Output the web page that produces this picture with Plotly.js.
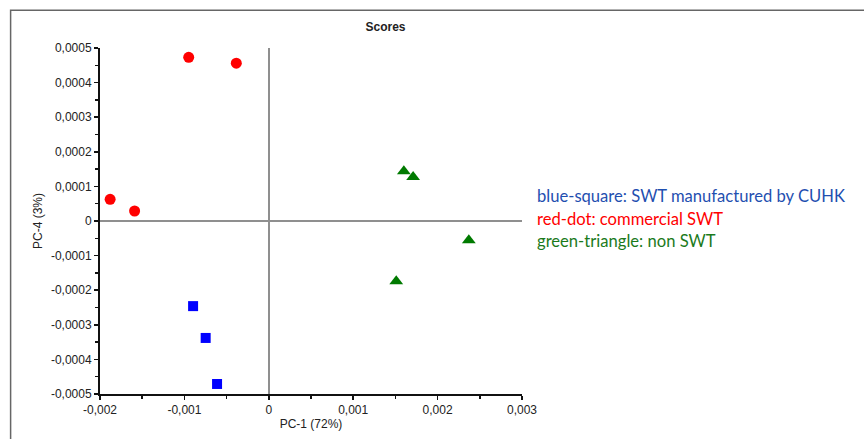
<!DOCTYPE html>
<html><head><meta charset="utf-8">
<script src="https://cdn.plot.ly/plotly-3.0.1.min.js"></script>
<style>html,body{margin:0;padding:0;background:#fff;}#chart{width:864px;height:439px;}</style>
</head><body><div id="chart"></div>
<script>
// Scores (PC-1 vs PC-4)
const blueX = [-0.000897, -0.000748, -0.000613];
const blueY = [-0.000246, -0.000338, -0.000471];
const redX = [-0.00188, -0.00159, -0.000949, -0.000385];
const redY = [0.0000626, 0.0000289, 0.000473, 0.000456];
const greenX = [0.00160, 0.00171, 0.00237, 0.00151];
const greenY = [0.000144, 0.000127, -0.0000557, -0.000174];

const xTickVals = [-0.002, -0.001, 0, 0.001, 0.002, 0.003];
const xTickText = ['-0,002', '-0,001', '0', '0,001', '0,002', '0,003'];
const yTickVals = [-0.0005, -0.0004, -0.0003, -0.0002, -0.0001, 0, 0.0001, 0.0002, 0.0003, 0.0004, 0.0005];
const yTickText = ['-0,0005', '-0,0004', '-0,0003', '-0,0002', '-0,0001', '0', '0,0001', '0,0002', '0,0003', '0,0004', '0,0005'];

const legendLines = [
  {text: 'blue-square: SWT manufactured by CUHK', color: '#1f4fb0'},
  {text: 'red-dot: commercial SWT', color: '#ff0000'},
  {text: 'green-triangle: non SWT', color: '#1b7a1b'}
];

const traces = [
  {x: blueX, y: blueY, mode: 'markers', type: 'scatter', name: 'blue',
   marker: {symbol: 'square', color: '#0000ff', size: 10}},
  {x: redX, y: redY, mode: 'markers', type: 'scatter', name: 'red',
   marker: {symbol: 'circle', color: '#ff0000', size: 11}},
  {x: greenX, y: greenY, mode: 'markers', type: 'scatter', name: 'green',
   marker: {symbol: 'triangle-up', color: '#007a00', size: 12}}
];

const W = 864, H = 439;
const L = 99.5, R = 342, T = 47.7, B = 44.7;
const pw = W - L - R, ph = H - T - B;
const px = p => (p - L) / pw;
const py = p => (H - B - p) / ph;

const annotations = legendLines.map((d, i) => ({
  xref: 'paper', yref: 'paper', x: px(535), y: py(196 + i * 22.5),
  xanchor: 'left', yanchor: 'middle', showarrow: false,
  text: d.text, font: {family: 'Lato, Open Sans, sans-serif', size: 16.6, color: d.color}
}));

const layout = {
  width: W, height: H,
  margin: {l: L, r: R, t: T, b: B, pad: 0},
  paper_bgcolor: '#ffffff', plot_bgcolor: '#ffffff',
  showlegend: false,
  font: {family: 'Liberation Sans, Arial, sans-serif', size: 12, color: '#222'},
  title: {text: '<b>Scores</b>', font: {size: 12, color: '#222'}, x: px(288), xanchor: 'center', y: 1 - 27 / H, yanchor: 'middle'},
  xaxis: {
    range: [-0.002, 0.003], tickmode: 'array', tickvals: xTickVals, ticktext: xTickText,
    showgrid: false, zeroline: true, zerolinecolor: '#8f8f8f', zerolinewidth: 2,
    showline: true, linecolor: '#111', linewidth: 2, ticks: 'outside', ticklen: 4, tickcolor: '#111', tickwidth: 1.5,
    minor: {tickmode: 'linear', tick0: 0, dtick: 0.0005, ticks: 'outside', ticklen: 3, tickcolor: '#111'},
    title: {text: 'PC-1 (72%)', standoff: 3, font: {size: 12, color: '#222'}},
    fixedrange: true
  },
  yaxis: {
    range: [-0.0005, 0.0005], tickmode: 'array', tickvals: yTickVals, ticktext: yTickText,
    showgrid: false, zeroline: true, zerolinecolor: '#8f8f8f', zerolinewidth: 2,
    showline: true, linecolor: '#111', linewidth: 2, ticks: 'outside', ticklen: 4, tickcolor: '#111', tickwidth: 1.5,
    minor: {tickmode: 'linear', tick0: 0, dtick: 0.00005, ticks: 'outside', ticklen: 3, tickcolor: '#111'},
    title: {text: 'PC-4 (3%)', standoff: 6, font: {size: 12, color: '#222'}},
    fixedrange: true
  },
  shapes: [
    {type: 'rect', xref: 'paper', yref: 'paper', x0: px(10), x1: px(900), y0: py(480), y1: py(10),
     line: {color: '#666', width: 1.5}, fillcolor: 'rgba(0,0,0,0)', layer: 'below'}
  ],
  annotations: annotations
};

Plotly.newPlot('chart', traces, layout, {displayModeBar: false, staticPlot: true});
</script>
</body></html>
